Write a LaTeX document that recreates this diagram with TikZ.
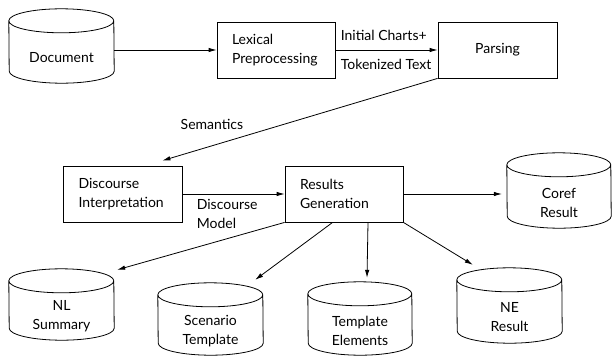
\documentclass[tikz,border=0pt]{standalone}
\usepackage{fontspec}
\setmainfont{Lato}
\usetikzlibrary{arrows.meta}

% Drum (database) symbol: the node is the visible body below the top cap,
% the outline is drawn around it with 12pt high end caps.
\newcommand\drum[5]{% name, centre, width, body height, text
  \node[drumbody, minimum width=#3, minimum height=#4] (#1) at #2 {#5};
  \draw[outline]
    ([yshift=12pt]#1.north west)
      arc[start angle=180, end angle=0, x radius=#3/2, y radius=12pt]
      -- ([yshift=12pt]#1.south east)
      arc[start angle=0, end angle=-180, x radius=#3/2, y radius=12pt]
      -- cycle
    ([yshift=12pt]#1.north west)
      arc[start angle=180, end angle=360, x radius=#3/2, y radius=12pt];
}

\tikzset{
  txt/.style={font=\fontsize{14}{19}\selectfont},
  outline/.style={line width=0.8pt, black},
  procbox/.style={draw, line width=0.8pt, rectangle, minimum width=118pt,
    minimum height=56pt, inner xsep=15pt, text width=88pt, align=left, txt},
  drumbody/.style={rectangle, inner sep=0pt, align=center, txt},
  flow/.style={line width=0.8pt, -{Latex[length=8pt, width=4.5pt]}},
  lbl/.style={txt, inner sep=0pt, align=left},
}

\begin{document}
\begin{tikzpicture}[x=1pt, y=-1pt]
  \useasboundingbox (0,0) rectangle (612,356);

  % processing stages
  \node[procbox] (lex)   at (276,50)    {Lexical\\Preprocessing};
  \node[procbox, minimum width=119pt, align=center] (parse) at (497.5,50) {Parsing};
  \node[procbox, minimum width=119pt] (dis)   at (122.5,194) {Discourse\\Interpretation};
  \node[procbox] (res)   at (344,194)   {Results\\Generation};

  % data stores
  \drum{doc}{(61.5,58)}{105pt}{50pt}{Document}
  \drum{coref}{(559,202.5)}{104pt}{51pt}{Coref\\Result}
  \drum{nl}{(61.5,316.5)}{105pt}{47pt}{NL\\Summary}
  \drum{scen}{(210.5,331)}{105pt}{48pt}{Scenario\\Template}
  \drum{tmpl}{(360,330.5)}{104pt}{49pt}{Template\\Elements}
  \drum{ne}{(509.5,317.5)}{105pt}{51pt}{NE\\Result}

  % pipeline
  \draw[flow] (doc.east |- lex.west) -- (lex.west);
  \draw[flow] (lex.east) -- (parse.west)
    node[lbl, pos=0, anchor=south west, xshift=5pt, yshift=9pt] {Initial Charts+}
    node[lbl, pos=0, anchor=north west, xshift=5pt, yshift=-9pt] {Tokenized Text};
  \draw[flow] (parse.south west) -- ([xshift=-20pt, yshift=5pt]dis.north east)
    node[lbl, pos=0.82, above=16pt] {Semantics};
  \draw[flow] (dis.east) -- (res.west)
    node[lbl, pos=0, anchor=north west, xshift=14pt, yshift=-5pt] {Discourse\\Model};
  \draw[flow] (res.east) -- ([xshift=-5pt]res.east -| coref.west);

  % outputs of results generation
  \draw[flow] (res.south west) -- ([xshift=3pt, yshift=23pt]nl.north east);
  \draw[flow] ([xshift=48pt]res.south west) -- ([xshift=-8pt, yshift=27pt]scen.north east);
  \draw[flow] ([xshift=24pt]res.south) -- ([xshift=7pt, yshift=28pt]tmpl.north);
  \draw[flow] (res.south east) -- ([xshift=16pt, yshift=27pt]ne.north west);
\end{tikzpicture}
\end{document}
